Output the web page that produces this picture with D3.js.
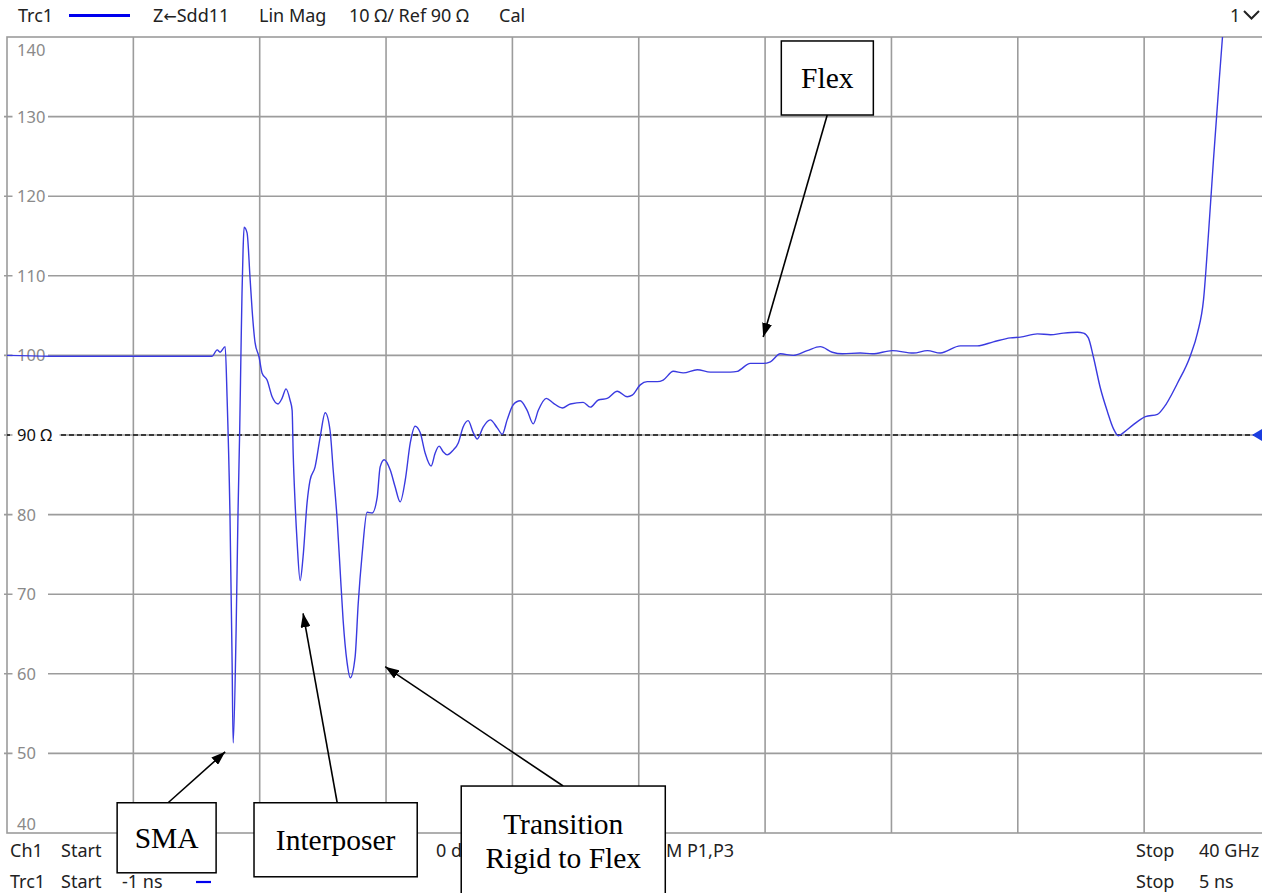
<!DOCTYPE html>
<html>
<head>
<meta charset="utf-8">
<script src="https://cdn.jsdelivr.net/npm/d3@7"></script>
<style>
  html, body { margin: 0; padding: 0; background: #fff; }
  svg { display: block; }
</style>
</head>
<body>
<svg id="chart"></svg>
<script>
// TDR impedance trace
const timeNs = [-1.000, -0.800, -0.558, -0.300, -0.083, -0.026, -0.002, 0.012, 0.036, 0.045,
  0.059, 0.069, 0.074, 0.088, 0.097, 0.105, 0.112, 0.116, 0.121, 0.126,
  0.140, 0.154, 0.164, 0.178, 0.197, 0.211, 0.235, 0.259, 0.287, 0.306,
  0.325, 0.344, 0.354, 0.359, 0.368, 0.378, 0.392, 0.406, 0.425, 0.439,
  0.463, 0.487, 0.511, 0.534, 0.549, 0.568, 0.582, 0.596, 0.615, 0.630,
  0.653, 0.668, 0.687, 0.710, 0.734, 0.758, 0.772, 0.791, 0.820, 0.843,
  0.867, 0.891, 0.915, 0.938, 0.962, 0.986, 1.014, 1.033, 1.052, 1.071,
  1.090, 1.119, 1.143, 1.166, 1.190, 1.214, 1.233, 1.261, 1.295, 1.328,
  1.352, 1.375, 1.404, 1.437, 1.470, 1.499, 1.523, 1.561, 1.594, 1.637,
  1.675, 1.736, 1.770, 1.808, 1.850, 1.898, 1.945, 1.969, 2.007, 2.040,
  2.088, 2.116, 2.164, 2.211, 2.278, 2.340, 2.435, 2.468, 2.530, 2.591,
  2.625, 2.672, 2.734, 2.800, 2.862, 2.919, 2.967, 3.052, 3.109, 3.204,
  3.304, 3.371, 3.432, 3.527, 3.608, 3.684, 3.765, 3.812, 3.893, 3.955,
  4.017, 4.083, 4.112, 4.135, 4.159, 4.192, 4.226, 4.254, 4.278, 4.302,
  4.349, 4.406, 4.463, 4.492, 4.558, 4.620, 4.653, 4.682, 4.705, 4.729,
  4.753, 4.772, 4.791];
const zOhm = [100.0, 99.9, 99.9, 99.9, 99.9, 99.9, 100.7, 100.4, 101.1, 94.8,
  79.7, 61.4, 51.3, 65.5, 80.2, 90.6, 101.9, 107.8, 113.2, 116.1,
  115.4, 109.8, 105.7, 101.6, 99.8, 97.8, 96.9, 94.8, 93.9, 94.6,
  95.8, 94.4, 93.1, 87.7, 81.5, 76.4, 71.7, 74.7, 81.5, 84.3,
  86.0, 89.7, 92.8, 90.6, 85.6, 79.3, 73.0, 66.8, 61.4, 59.5,
  62.1, 68.9, 75.2, 80.3, 80.2, 82.2, 86.0, 86.9, 85.6, 83.5,
  81.6, 84.3, 89.0, 91.1, 90.3, 87.7, 86.1, 87.7, 88.6, 87.9,
  87.5, 88.1, 89.0, 91.0, 91.8, 90.3, 89.5, 91.0, 91.9, 90.9,
  90.1, 91.9, 93.8, 94.3, 93.1, 91.4, 93.1, 94.6, 94.0, 93.4,
  93.9, 94.1, 93.5, 94.4, 94.6, 95.5, 94.8, 95.0, 96.3, 96.7,
  96.7, 96.9, 98.0, 97.8, 98.2, 97.9, 97.9, 98.0, 99.0, 99.0,
  99.2, 100.2, 100.0, 100.6, 101.1, 100.4, 100.2, 100.3, 100.2, 100.6,
  100.3, 100.6, 100.3, 101.2, 101.2, 101.7, 102.2, 102.3, 102.7, 102.6,
  102.8, 102.9, 102.8, 102.2, 99.8, 95.9, 92.9, 90.8, 89.9, 90.3,
  91.3, 92.3, 92.6, 93.4, 96.5, 100.0, 102.8, 107.0, 115.1, 124.5,
  133.3, 140.0, 145.9];

const yTicks = [140, 130, 120, 110, 100, 90, 80, 70, 60, 50, 40];
const refOhm = 90;
const timeStart = -1, timeStop = 5, divisions = 10;

// header / footer texts
const headerItems = [["Trc1", 18], ["Lin Mag", 259], ["10 \u03a9/ Ref 90 \u03a9", 349], ["Cal", 499]];
const footerRow1 = [["Ch1", 10], ["Start", 61], ["0 dBm", 436], ["SM P1,P3", 656], ["Stop", 1136], ["40 GHz", 1199]];
const footerRow2 = [["Trc1", 10], ["Start", 61], ["-1 ns", 122], ["Stop", 1136], ["5 ns", 1199]];

// annotation boxes and arrows, in data units (ns, ohm)
const notes = [
  { lines: ["SMA"],        box: [-0.477, -0.007, 43.8, 35.0], from: [-0.235, 43.8], to: [0.036, 50.2] },
  { lines: ["Interposer"], box: [0.173, 0.948, 43.8, 34.5],   from: [0.568, 43.8],  to: [0.406, 67.6] },
  { lines: ["Transition", "Rigid to Flex"], box: [1.157, 2.126, 45.9, 31.0], from: [1.641, 45.9], to: [0.796, 60.9] },
  { lines: ["Flex"],       box: [2.677, 3.114, 139.5, 130.2], from: [2.895, 130.2], to: [2.591, 102.3] }
];

const W = 1262, H = 893;
const plot = { left: 7, top: 37, right: 1270.5, bottom: 833 };
const ui = "'Noto Sans', 'Open Sans', sans-serif";
const gridCol = "#9c9c9c";

const svg = d3.select("#chart").attr("width", W).attr("height", H);

const x = d3.scaleLinear().domain([timeStart, timeStop]).range([plot.left, plot.right]);
const y = d3.scaleLinear().domain([40, 140]).range([plot.bottom, plot.top]);

// header
const head = svg.append("g").style("font-family", ui).style("font-size", "18px").attr("fill", "#222");
headerItems.forEach(d => head.append("text").attr("x", d[1]).attr("y", 22).text(d[0]));
const meas = head.append("text").attr("x", 153).attr("y", 22);
meas.append("tspan").text("Z");
meas.append("tspan").style("font-family", "'DejaVu Sans', sans-serif").style("font-size", "16px").text("\u2190");
meas.append("tspan").text("Sdd11");
head.append("line").attr("x1", 69).attr("x2", 130).attr("y1", 15.5).attr("y2", 15.5)
  .attr("stroke", "#0000ee").attr("stroke-width", 3);
head.append("text").attr("x", 1230).attr("y", 22).text("1");
head.append("path").attr("d", "M1244,11 L1251.5,18.5 L1259,11").attr("fill", "none")
  .attr("stroke", "#222").attr("stroke-width", 2);

// grid
const grid = svg.append("g");
const xSteps = d3.range(1, divisions).map(i => timeStart + i * (timeStop - timeStart) / divisions);
grid.selectAll(".vg").data(xSteps).enter().append("line")
  .attr("x1", d => x(d)).attr("x2", d => x(d))
  .attr("y1", plot.top).attr("y2", plot.bottom)
  .attr("stroke", gridCol).attr("stroke-width", 1.6);
grid.selectAll(".hg").data(yTicks.filter(d => d !== 140 && d !== 40)).enter().append("line")
  .attr("x1", plot.left - 3).attr("x2", plot.right)
  .attr("y1", d => y(d)).attr("y2", d => y(d))
  .attr("stroke", gridCol).attr("stroke-width", 1.6);
grid.append("rect").attr("x", plot.left).attr("y", plot.top)
  .attr("width", plot.right - plot.left).attr("height", plot.bottom - plot.top)
  .attr("fill", "none").attr("stroke", gridCol).attr("stroke-width", 1.6);

// y labels
const lab = svg.append("g").style("font-family", ui).style("font-size", "16.5px");
yTicks.forEach(v => {
  let yy = y(v), base = yy + 6;
  if (v === 140) base = y(v) + 19;
  if (v === 40) base = y(v) - 3;
  const isRef = v === refOhm;
  const txt = isRef ? "90 \u03a9" : String(v);
  if (v !== 140 && v !== 40) {
    lab.append("rect").attr("x", 12.5).attr("y", yy - 8).attr("width", isRef ? 47 : 35.5).attr("height", 16)
      .attr("fill", "#fff");
  }
  lab.append("text").attr("x", 17).attr("y", base)
    .attr("fill", isRef ? "#111" : "#8a8a8a").text(txt);
});

// reference line
svg.append("line").attr("x1", plot.left).attr("x2", plot.left + 3)
  .attr("y1", y(refOhm)).attr("y2", y(refOhm)).attr("stroke", "#111").attr("stroke-width", 1.5);
svg.append("line").attr("x1", 61).attr("x2", W)
  .attr("y1", y(refOhm)).attr("y2", y(refOhm))
  .attr("stroke", "#111").attr("stroke-width", 1.4).attr("stroke-dasharray", "5,3");
svg.append("path")
  .attr("d", `M${W - 10},${y(refOhm)} L${W},${y(refOhm) - 6} L${W},${y(refOhm) + 6} Z`)
  .attr("fill", "#1a3de0");

// trace
svg.append("clipPath").attr("id", "pclip").append("rect")
  .attr("x", plot.left).attr("y", plot.top)
  .attr("width", plot.right - plot.left).attr("height", plot.bottom - plot.top);
const pts = timeNs.map((t, i) => [t, zOhm[i]]);
const line = d3.line().x(d => x(d[0])).y(d => y(d[1])).curve(d3.curveMonotoneX);
svg.append("path").datum(pts).attr("clip-path", "url(#pclip)")
  .attr("d", line).attr("fill", "none").attr("stroke", "#3a3ae0").attr("stroke-width", 1.4);

// footer
const foot = svg.append("g").style("font-family", ui).style("font-size", "18px").attr("fill", "#222");
const row1 = 857, row2 = 888;
footerRow1.forEach(d => foot.append("text").attr("x", d[1]).attr("y", row1).text(d[0]));
footerRow2.forEach(d => foot.append("text").attr("x", d[1]).attr("y", row2).text(d[0]));
foot.append("line").attr("x1", 196).attr("x2", 211).attr("y1", row2 - 6).attr("y2", row2 - 6)
  .attr("stroke", "#0000ee").attr("stroke-width", 2.2);

// annotations
svg.append("defs").append("marker").attr("id", "ah")
  .attr("viewBox", "0 0 14 10").attr("refX", 14).attr("refY", 5)
  .attr("markerWidth", 14).attr("markerHeight", 10)
  .attr("markerUnits", "userSpaceOnUse").attr("orient", "auto")
  .append("path").attr("d", "M0,0 L14,5 L0,10 Z").attr("fill", "#000");

const ann = svg.append("g");
notes.forEach(n => {
  ann.append("line")
    .attr("x1", x(n.from[0])).attr("y1", y(n.from[1]))
    .attr("x2", x(n.to[0])).attr("y2", y(n.to[1]))
    .attr("stroke", "#000").attr("stroke-width", 1.6).attr("marker-end", "url(#ah)");
});
notes.forEach(n => {
  const x0 = x(n.box[0]), x1 = x(n.box[1]), y0 = y(n.box[2]), y1 = y(n.box[3]);
  ann.append("rect").attr("x", x0).attr("y", y0).attr("width", x1 - x0).attr("height", y1 - y0)
    .attr("fill", "#fff").attr("stroke", "#000").attr("stroke-width", 1.5);
  const cx = (x0 + x1) / 2;
  const cy = n.lines.length === 1 ? (y0 + y1) / 2 : y0 + 38;
  n.lines.forEach((s, i) => {
    ann.append("text").attr("x", cx).attr("y", cy + i * 34 + 10)
      .attr("text-anchor", "middle")
      .style("font-family", "'Liberation Serif', 'DejaVu Serif', serif").style("font-size", "29.5px")
      .attr("fill", "#000").text(s);
  });
});
</script>
</body>
</html>
